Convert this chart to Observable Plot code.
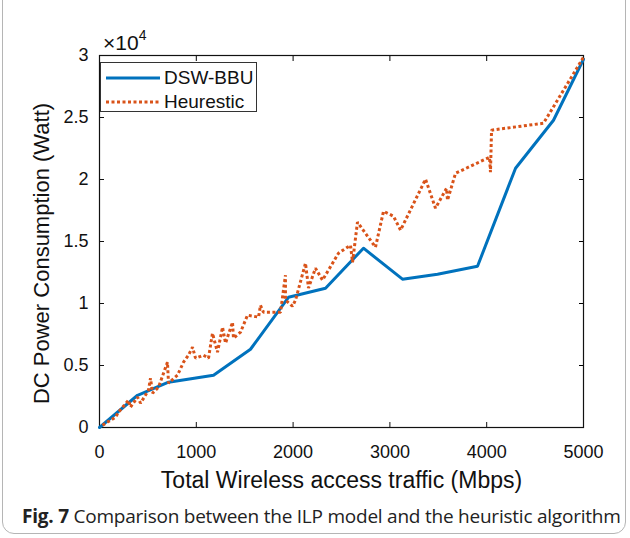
<!DOCTYPE html>
<html>
<head>
<meta charset="utf-8">
<script src="https://cdn.jsdelivr.net/npm/d3@7"></script>
<script src="https://cdn.jsdelivr.net/npm/@observablehq/plot@0.6"></script>
<style>
  html, body { margin: 0; padding: 0; background: #fff; }
  #wrap { position: relative; width: 630px; height: 538px; overflow: hidden; font-family: "Liberation Sans", Arial, sans-serif; }
  #border { position: absolute; left: 2px; top: -20px; width: 624px; height: 554px; border: 1.3px solid #b5b5b5; border-radius: 12px; box-sizing: border-box; }
  #chart { position: absolute; left: 0; top: 0; }
  #legend { position: absolute; left: 100px; top: 62px; width: 157px; height: 50px; border: 1px solid #333; background: #fff; box-sizing: border-box; }
  #legend .row { position: absolute; left: 0; height: 22px; display: flex; align-items: center; font-size: 19px; color: #111; }
  #caption { position: absolute; left: 22px; top: 503px; font-family: "Open Sans", "Noto Sans", sans-serif; font-size: 19px; color: #222; white-space: nowrap; letter-spacing: -0.23px; }
  #caption b { font-weight: 700; }
</style>
</head>
<body>
<div id="wrap">
  <div id="border"></div>
  <div id="chart"></div>
  <div id="legend"></div>
  <div id="caption"><b>Fig. 7</b> Comparison between the ILP model and the heuristic algorithm</div>
</div>
<script>
// ---- data ----
const seriesNames = ["DSW-BBU", "Heurestic"];
const seriesColors = ["#0072BD", "#D95319"];

const dswTraffic = [0, 393, 713, 1178, 1560, 1952, 2335, 2727, 3130, 3492, 3905, 4298, 4690, 5000];
const dswPower   = [0, 2600, 3650, 4220, 6310, 10500, 11230, 14460, 11960, 12360, 13000, 20910, 24780, 29700];

const heuTraffic = [31, 165, 196, 300, 320, 393, 424, 506, 527, 548, 610, 702, 713, 806, 868, 919, 961, 992, 1074, 1126, 1167, 1219, 1271, 1302, 1374, 1384, 1457, 1529, 1643, 1663, 1694, 1870, 1921, 1921, 1994, 2025, 2128, 2159, 2231, 2304, 2469, 2593, 2614, 2665, 2851, 2934, 3037, 3110, 3368, 3471, 3585, 3595, 3678, 4029, 4039, 4050, 4587, 5000];
const heuPower   = [185, 830, 1230, 2200, 1640, 2440, 1960, 3010, 3980, 2770, 3250, 5270, 3570, 4220, 5270, 5830, 6480, 5590, 5830, 5590, 7600, 6070, 8090, 6800, 8490, 7200, 7690, 9060, 8900, 9860, 9300, 9300, 12280, 10270, 9780, 10270, 13250, 11240, 12850, 11880, 14060, 14700, 13330, 16560, 14540, 17440, 17040, 15910, 20020, 17690, 19290, 18330, 20500, 21800, 20590, 23980, 24540, 29860];

const xTicks = [0, 1000, 2000, 3000, 4000, 5000];
const yTicks = [0, 5000, 10000, 15000, 20000, 25000, 30000];

const xLabel = "Total Wireless access traffic (Mbps)";
const yLabel = "DC Power Consumption (Watt)";
const yExponent = "\u00d710";
const yExponentPow = "4";

// ---- build ----
const dsw = dswTraffic.map((x, i) => ({x, y: dswPower[i]}));
const heu = heuTraffic.map((x, i) => ({x, y: heuPower[i]}));
const font = "Liberation Sans, Arial, sans-serif";

const chart = Plot.plot({
  width: 630,
  height: 500,
  marginLeft: 99,
  marginRight: 47,
  marginTop: 55,
  marginBottom: 73,
  style: {fontFamily: font, background: "transparent", overflow: "visible"},
  x: {domain: [0, 5000]},
  y: {domain: [0, 30000]},
  marks: [
    Plot.axisX(xTicks, {anchor: "bottom", tickSize: -5, tickPadding: 23, fontSize: 18, label: null, color: "#111", tickFormat: d => String(d)}),
    Plot.axisX(xTicks, {anchor: "top", tickSize: -5, tickFormat: () => "", label: null}),
    Plot.axisY(yTicks, {anchor: "left", tickSize: -5, tickPadding: 16, fontSize: 18, label: null, color: "#111",
      tickFormat: d => String(d / 10000)}),
    Plot.axisY(yTicks, {anchor: "right", tickSize: -5, tickFormat: () => "", label: null}),
    Plot.text([xLabel], {frameAnchor: "bottom", textAnchor: "middle", dy: 60, fontSize: 23, fill: "#111", lineAnchor: "bottom"}),
    Plot.text([yLabel], {frameAnchor: "left", textAnchor: "middle", dx: -58, dy: 12, rotate: -90, fontSize: 22, fill: "#111", lineAnchor: "middle"}),
    Plot.frame({stroke: "#111", strokeWidth: 1.2}),
    Plot.line(dsw, {x: "x", y: "y", stroke: seriesColors[0], strokeWidth: 3}),
    Plot.line(heu, {x: "x", y: "y", stroke: seriesColors[1], strokeWidth: 3, strokeDasharray: "3,2.5", strokeLinecap: "butt", strokeLinejoin: "miter"})
  ]
});
document.getElementById("chart").appendChild(chart);

// exponent label near the top-left of the frame
const svg = d3.select(chart);
const ex = svg.append("text")
  .attr("x", 103).attr("y", 50).attr("text-anchor", "start")
  .attr("font-family", font).attr("font-size", 21).attr("fill", "#111");
ex.append("tspan").text(yExponent);
ex.append("tspan").attr("dy", -10).attr("font-size", 14).text(yExponentPow);

// legend
const legend = document.getElementById("legend");
seriesNames.forEach((name, i) => {
  const row = document.createElement("div");
  row.className = "row";
  row.style.top = (i === 0 ? 4 : 28) + "px";
  row.innerHTML = `<svg width="59" height="22" style="margin-left:3px;margin-right:1px"><line x1="2" x2="56" y1="11" y2="11" stroke="${seriesColors[i]}" stroke-width="3" ${i === 1 ? 'stroke-dasharray="3,2.5"' : ''}/></svg><span>${name}</span>`;
  legend.appendChild(row);
});
</script>
</body>
</html>
